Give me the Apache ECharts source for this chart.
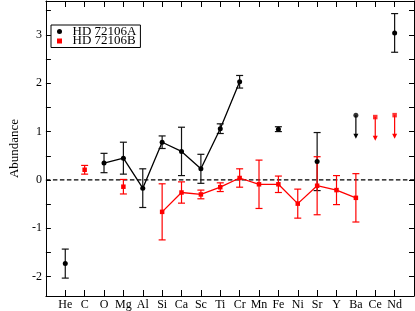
<!DOCTYPE html>
<html><head><meta charset="utf-8">
<script src="https://cdn.jsdelivr.net/npm/echarts@6/dist/echarts.min.js"></script>
<style>html,body{margin:0;padding:0;background:#fff}#c{width:415px;height:311px}</style>
</head><body><div id="c"></div>
<script>
const elements = ['He','C','O','Mg','Al','Si','Ca','Sc','Ti','Cr','Mn','Fe','Ni','Sr','Y','Ba','Ce','Nd'];
const abundA = [-1.73, null, 0.35, 0.45, -0.17, 0.78, 0.59, 0.23, 1.06, 2.03, null, 1.05, null, 0.38, null, null, null, 3.04];
const errA   = [0.30, null, 0.20, 0.33, 0.40, 0.13, 0.50, 0.30, 0.10, 0.13, null, 0.05, null, 0.60, null, null, null, 0.40];
const limitA = [null, null, null, null, null, null, null, null, null, null, null, null, null, null, null, 1.34, null, null];
const abundB = [null, 0.21, null, -0.14, null, -0.66, -0.26, -0.30, -0.15, 0.04, -0.09, -0.09, -0.49, -0.12, -0.21, -0.37, null, null];
const errB   = [null, 0.09, null, 0.15, null, 0.58, 0.22, 0.09, 0.09, 0.19, 0.50, 0.17, 0.30, 0.60, 0.30, 0.50, null, null];
const limitB = [null, null, null, null, null, null, null, null, null, null, null, null, null, null, null, null, 1.30, 1.34];
const arrowLength = 0.49;
const yLabelValues = [-2, -1, 0, 1, 2, 3];
const yMinorValues = [-2, -1.5, -1, -0.5, 0, 0.5, 1, 1.5, 2, 2.5, 3, 3.5];
const nameA = 'HD 72106A', nameB = 'HD 72106B';

const FONT = 'Liberation Serif';
const BLACK = '#000', RED = '#ff0000';
const xIdx = elements.map((e, i) => i + 1);

function lineData(vals) {
  return vals.map((v, i) => [i + 1, v == null ? '-' : v]);
}
function errData(vals, errs) {
  const d = [];
  vals.forEach((v, i) => { if (v != null && errs[i] != null) d.push([i + 1, v - errs[i], v + errs[i]]); });
  return d;
}
function limData(vals) {
  const d = [];
  vals.forEach((v, i) => { if (v != null) d.push([i + 1, v, v - arrowLength]); });
  return d;
}
function errSeries(vals, errs, color) {
  return {
    type: 'custom', silent: true, z: 2,
    data: errData(vals, errs),
    encode: { x: 0, y: [1, 2] },
    renderItem(params, api) {
      const x = api.value(0);
      const lo = api.coord([x, api.value(1)]);
      const hi = api.coord([x, api.value(2)]);
      const hw = 3.5;
      const st = { stroke: color, lineWidth: 1.2 };
      return { type: 'group', children: [
        { type: 'line', shape: { x1: lo[0], y1: lo[1], x2: hi[0], y2: hi[1] }, style: st },
        { type: 'line', shape: { x1: lo[0] - hw, y1: lo[1], x2: lo[0] + hw, y2: lo[1] }, style: st },
        { type: 'line', shape: { x1: hi[0] - hw, y1: hi[1], x2: hi[0] + hw, y2: hi[1] }, style: st }
      ]};
    }
  };
}
function arrowSeries(vals, color) {
  return {
    type: 'custom', silent: true, z: 2,
    data: limData(vals),
    encode: { x: 0, y: [1, 2] },
    renderItem(params, api) {
      const x = api.value(0);
      const top = api.coord([x, api.value(1)]);
      const tip = api.coord([x, api.value(2)]);
      return { type: 'group', children: [
        { type: 'line', shape: { x1: top[0], y1: top[1], x2: tip[0], y2: tip[1] - 3 }, style: { stroke: color, lineWidth: 1.2 } },
        { type: 'polygon', shape: { points: [[tip[0] - 2.5, tip[1] - 5], [tip[0] + 2.5, tip[1] - 5], [tip[0], tip[1]]] }, style: { fill: color } }
      ]};
    }
  };
}

const chart = echarts.init(document.getElementById('c'), null, { renderer: 'canvas' });
const axisLine = { show: true, onZero: false, lineStyle: { color: BLACK, width: 1 } };
chart.setOption({
  animation: false,
  backgroundColor: '#fff',
  grid: { left: 27, right: 1, top: 1, bottom: 15, containLabel: false },
  legend: {
    orient: 'vertical', left: 51, top: 25,
    padding: [0, 4, 0, 6], itemGap: -3.5,
    itemWidth: 16, itemHeight: 5,
    borderColor: BLACK, borderWidth: 1,
    textStyle: { fontFamily: FONT, fontSize: 13, color: BLACK },
    data: [
      { name: nameA, icon: 'circle' },
      { name: nameB, icon: 'path://M0,0L1,0L1,1L0,1Z' }
    ]
  },
  xAxis: [
    {
      type: 'value', min: 0, max: 19, position: 'bottom',
      axisLine,
      splitLine: { show: false },
      axisTick: { inside: true, length: 6, customValues: xIdx, lineStyle: { color: BLACK } },
      axisLabel: { customValues: xIdx, margin: 3, fontFamily: FONT, fontSize: 12, color: BLACK,
        formatter: v => elements[Math.round(v) - 1] || '' }
    },
    {
      type: 'value', min: 0, max: 19, position: 'top',
      axisLine,
      splitLine: { show: false },
      axisTick: { inside: true, length: 6, customValues: xIdx, lineStyle: { color: BLACK } },
      axisLabel: { show: false }
    }
  ],
  yAxis: [
    {
      type: 'value', min: -2.4, max: 3.7, position: 'left',
      name: 'Abundance', nameLocation: 'middle', nameGap: 21, nameRotate: 90,
      nameTextStyle: { fontFamily: FONT, fontSize: 13, color: BLACK },
      axisLine,
      splitLine: { show: false },
      axisTick: { inside: true, length: 5, customValues: yMinorValues, lineStyle: { color: BLACK } },
      axisLabel: { customValues: yLabelValues, margin: 4, fontFamily: FONT, fontSize: 12, color: BLACK }
    },
    {
      type: 'value', min: -2.4, max: 3.7, position: 'right',
      axisLine,
      splitLine: { show: false },
      axisTick: { inside: true, length: 5, customValues: yMinorValues, lineStyle: { color: BLACK } },
      axisLabel: { show: false }
    }
  ],
  series: [
    {
      type: 'line', silent: true, z: 1, data: [[0, 0], [19, 0]],
      symbol: 'none', lineStyle: { color: BLACK, width: 1.2, type: [4.5, 2.5] }
    },
    errSeries(abundA, errA, '#111'),
    errSeries(abundB, errB, RED),
    arrowSeries(limitA, BLACK),
    arrowSeries(limitB, RED),
    {
      name: nameA, type: 'line', z: 3, data: lineData(abundA), connectNulls: false,
      symbol: 'circle', symbolSize: 5, showSymbol: true,
      itemStyle: { color: BLACK }, lineStyle: { color: BLACK, width: 1.3 }
    },
    {
      name: nameB, type: 'line', z: 3, data: lineData(abundB), connectNulls: false,
      symbol: 'rect', symbolSize: 4.5, showSymbol: true,
      itemStyle: { color: RED }, lineStyle: { color: RED, width: 1.3 }
    },
    {
      name: nameA, type: 'scatter', z: 3, data: limData(limitA).map(d => [d[0], d[1]]),
      symbol: 'circle', symbolSize: 5, itemStyle: { color: BLACK }
    },
    {
      name: nameB, type: 'scatter', z: 3, data: limData(limitB).map(d => [d[0], d[1]]),
      symbol: 'rect', symbolSize: 4.5, itemStyle: { color: RED }
    }
  ]
});
</script></body></html>
